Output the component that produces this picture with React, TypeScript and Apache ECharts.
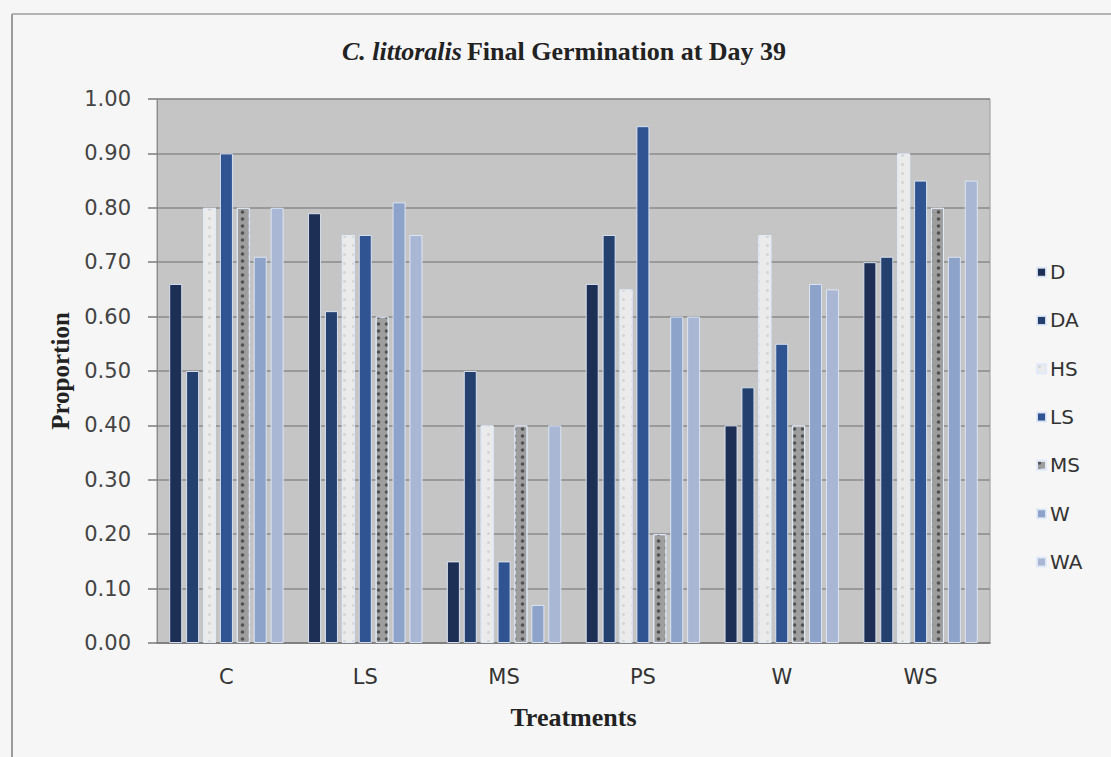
import React, { useEffect, useRef } from "react";
import * as echarts from "echarts";

const categories = ["C", "LS", "MS", "PS", "W", "WS"];
const seriesNames = ["D", "DA", "HS", "LS", "MS", "W", "WA"];
const D = [0.66, 0.79, 0.15, 0.66, 0.40, 0.70];
const DA = [0.50, 0.61, 0.50, 0.75, 0.47, 0.71];
const HS = [0.80, 0.75, 0.40, 0.65, 0.75, 0.90];
const LS = [0.90, 0.75, 0.15, 0.95, 0.55, 0.85];
const MS = [0.80, 0.60, 0.40, 0.20, 0.40, 0.80];
const W = [0.71, 0.81, 0.07, 0.60, 0.66, 0.71];
const WA = [0.80, 0.75, 0.40, 0.60, 0.65, 0.85];
const yTicks = [0, 0.1, 0.2, 0.3, 0.4, 0.5, 0.6, 0.7, 0.8, 0.9, 1.0];

const seriesData = [D, DA, HS, LS, MS, W, WA];
const colors = ["#1d2f55", "#24406f", "#ebebeb", "#2f5491", "#9e9e9e", "#8ea3c9", "#a9b7d4"];

export default function App() {
  const ref = useRef<HTMLDivElement>(null);
  useEffect(() => {
    if (!ref.current) return;
    const chart = echarts.init(ref.current, null, { renderer: "svg" });
    const series = seriesNames.map((name, i) => {
      const item: any = {
        color: colors[i],
        borderColor: "rgba(225,234,248,0.9)",
        borderWidth: 1,
      };
      if (name === "MS") {
        item.decal = {
          symbol: "circle",
          symbolSize: 0.9,
          color: "rgba(40,40,40,0.65)",
          dashArrayX: [[5, 3]],
          dashArrayY: [4, 3],
          rotation: 0,
        };
      }
      if (name === "HS") {
        item.decal = {
          symbol: "circle",
          symbolSize: 0.6,
          color: "rgba(185,185,185,0.45)",
          dashArrayX: [[5, 4]],
          dashArrayY: [5, 4],
          rotation: 0,
        };
      }
      return {
        name,
        type: "bar",
        data: seriesData[i],
        barWidth: 13,
        barGap: "30%",
        itemStyle: item,
      };
    });
    chart.setOption({
      animation: false,
      backgroundColor: "#f6f6f6",
      title: {
        text: "{i|C. littoralis} {b|Final Germination at Day 39}",
        left: 337,
        top: 33,
        textStyle: {
          rich: {
            i: { fontFamily: "Liberation Serif", fontStyle: "italic", fontWeight: "bold", fontSize: 26, color: "#222" },
            b: { fontFamily: "Liberation Serif", fontWeight: "bold", fontSize: 26, color: "#222" },
          },
        },
      },
      legend: {
        orient: "vertical",
        left: 1031,
        top: 255,
        itemWidth: 9,
        itemHeight: 9,
        itemGap: 24,
        icon: "rect",
        data: seriesNames,
        textStyle: { fontFamily: "DejaVu Sans", fontSize: 20, color: "#333", lineHeight: 24.3, padding: [0, 0, 0, -1] },
      },
      grid: {
        left: 157,
        right: 121,
        top: 99,
        bottom: 114,
        show: true,
        backgroundColor: "#c5c5c5",
        borderColor: "#9a9a9a",
        borderWidth: 1,
      },
      xAxis: {
        type: "category",
        data: categories,
        name: "Treatments",
        nameLocation: "middle",
        nameGap: 61,
        nameTextStyle: { fontFamily: "Liberation Serif", fontWeight: "bold", fontSize: 26, color: "#222" },
        axisLine: { show: true, lineStyle: { color: "#7a7a7a", width: 1.5 } },
        axisTick: { show: false },
        axisLabel: { fontFamily: "DejaVu Sans", fontSize: 21, color: "#333", margin: 23 },
      },
      yAxis: {
        type: "value",
        min: 0,
        max: 1,
        interval: 0.1,
        name: "Proportion",
        nameLocation: "middle",
        nameRotate: 90,
        nameGap: 83,
        nameTextStyle: { fontFamily: "Liberation Serif", fontWeight: "bold", fontSize: 25, color: "#222" },
        axisLine: { show: true, lineStyle: { color: "#8a8a8a", width: 1 } },
        axisTick: { show: true, length: 9, lineStyle: { color: "#7a7a7a", width: 1.5 } },
        axisLabel: {
          fontFamily: "DejaVu Sans",
          fontSize: 21,
          color: "#444",
          margin: 26,
          formatter: (v: number) => {
            const t = yTicks.find((x) => Math.abs(x - v) < 1e-6);
            return (t !== undefined ? t : v).toFixed(2);
          },
        },
        splitLine: { show: true, lineStyle: { color: "#8a8a8a", width: 1.5 } },
      },
      graphic: [
        { type: "line", shape: { x1: 12, y1: 14, x2: 1111, y2: 14 }, style: { stroke: "#b4b4b4", lineWidth: 2 } },
        { type: "line", shape: { x1: 12, y1: 14, x2: 12, y2: 757 }, style: { stroke: "#9c9c9c", lineWidth: 2 } },
      ],
      series,
    });
    return () => chart.dispose();
  }, []);
  return <div ref={ref} style={{ position: "absolute", left: 0, top: 0, width: 1111, height: 757 }} />;
}
